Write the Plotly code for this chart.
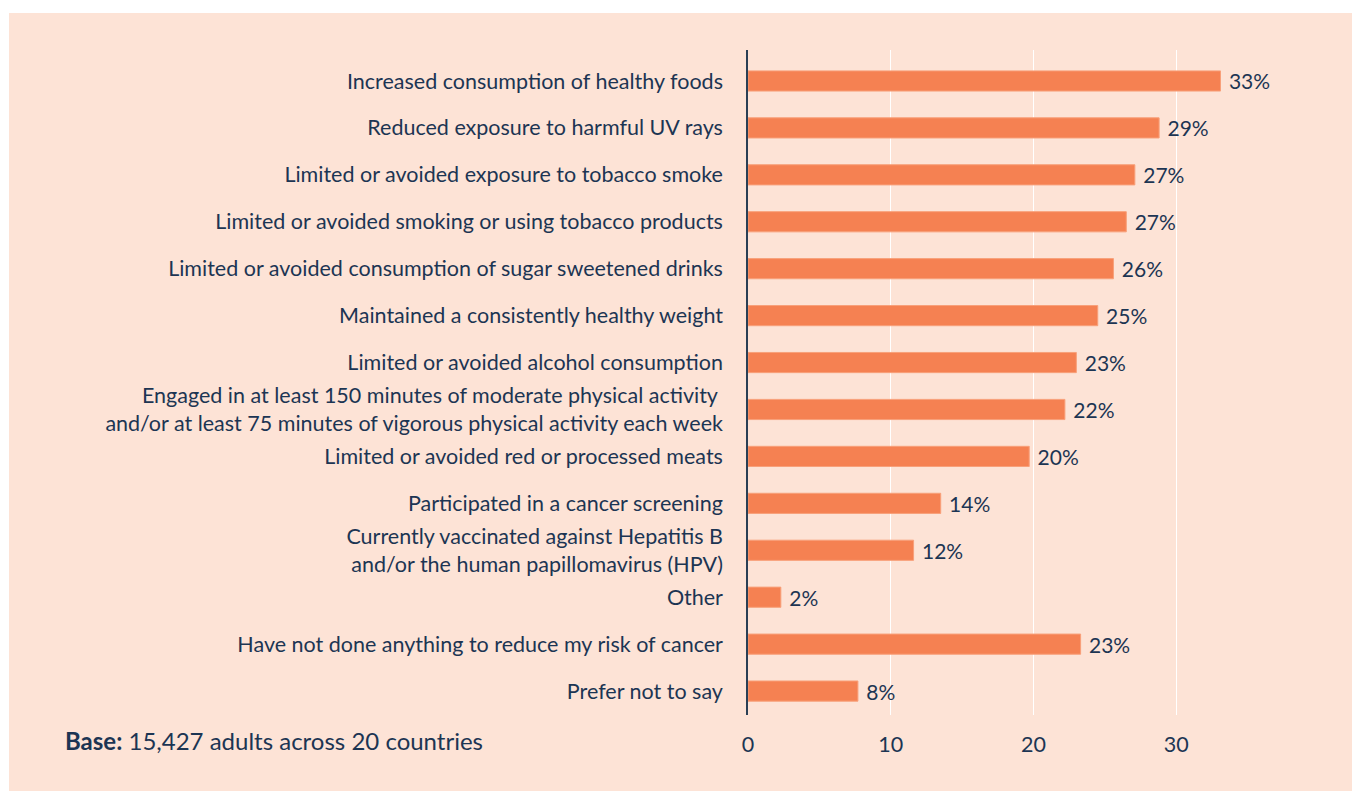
import plotly.graph_objects as go

categories = [
    "Increased consumption of healthy foods",
    "Reduced exposure to harmful UV rays",
    "Limited or avoided exposure to tobacco smoke",
    "Limited or avoided smoking or using tobacco products",
    "Limited or avoided consumption of sugar sweetened drinks",
    "Maintained a consistently healthy weight",
    "Limited or avoided alcohol consumption",
    "Engaged in at least 150 minutes of moderate physical activity <br>and/or at least 75 minutes of vigorous physical activity each week",
    "Limited or avoided red or processed meats",
    "Participated in a cancer screening",
    "Currently vaccinated against Hepatitis B<br>and/or the human papillomavirus (HPV)",
    "Other",
    "Have not done anything to reduce my risk of cancer",
    "Prefer not to say",
]
values = [33.1, 28.8, 27.1, 26.5, 25.6, 24.5, 23.0, 22.2, 19.7, 13.5, 11.6, 2.3, 23.3, 7.7]
value_labels = ["33%", "29%", "27%", "27%", "26%", "25%", "23%", "22%", "20%", "14%", "12%", "2%", "23%", "8%"]
x_ticks = [0, 10, 20, 30]

TEXT = "#1C3553"
BAR = "#F58152"
PEACH = "#FDE3D6"
FONT = "Lato"

# page body has an 8px margin, so figure coordinates are offset by 8px
OFF = 8
L, R, T, B = 748 - OFF, 41, 50 - OFF, 76
W, H = 1360 - OFF, 791 - OFF
pw, ph = W - L - R, H - T - B

fig = go.Figure(
    go.Bar(
        x=values,
        y=categories,
        orientation="h",
        marker=dict(color=BAR, line=dict(color="#F8A07A", width=1)),
        text=[" " + s for s in value_labels],
        textposition="outside",
        constraintext="none",
        textfont=dict(family=FONT, size=21, color=TEXT),
        cliponaxis=False,
        width=0.43,
    )
)

fig.add_shape(
    type="rect", xref="paper", yref="paper",
    x0=(9 - OFF - L) / pw, x1=(W - L) / pw,
    y0=-B / ph,
    y1=(H - B - (13 - OFF)) / ph,
    fillcolor=PEACH, line=dict(width=0), layer="below",
)

fig.add_annotation(
    xref="paper", yref="paper",
    x=(63 - OFF - L) / pw, y=(H - B - (740 - OFF)) / ph,
    xanchor="left", yanchor="middle",
    text="<b>Base:</b> 15,427 adults across 20 countries",
    showarrow=False,
    font=dict(family=FONT, size=24, color=TEXT),
)

fig.update_layout(
    width=W, height=H,
    margin=dict(l=L, r=R, t=T, b=B, autoexpand=False),
    paper_bgcolor="white",
    plot_bgcolor="rgba(0,0,0,0)",
    showlegend=False,
    font=dict(family=FONT, color=TEXT, size=21.5),
    xaxis=dict(
        range=[0, 40],
        tickvals=x_ticks,
        ticktext=[str(v) for v in x_ticks],
        showgrid=True, gridcolor="white", gridwidth=1,
        zeroline=False, showline=False,
        ticks="outside", ticklen=10, tickcolor="rgba(0,0,0,0)",
        tickfont=dict(family=FONT, size=21.5, color=TEXT),
    ),
    yaxis=dict(
        categoryorder="array", categoryarray=categories,
        range=[13.51, -0.66],
        showgrid=False, zeroline=False,
        showline=True, linecolor="#2A3F55", linewidth=1.5,
        ticks="outside", ticklen=19, tickcolor="rgba(0,0,0,0)",
        tickfont=dict(family=FONT, size=21.5, color=TEXT),
    ),
)

fig.write_html("out.html")
